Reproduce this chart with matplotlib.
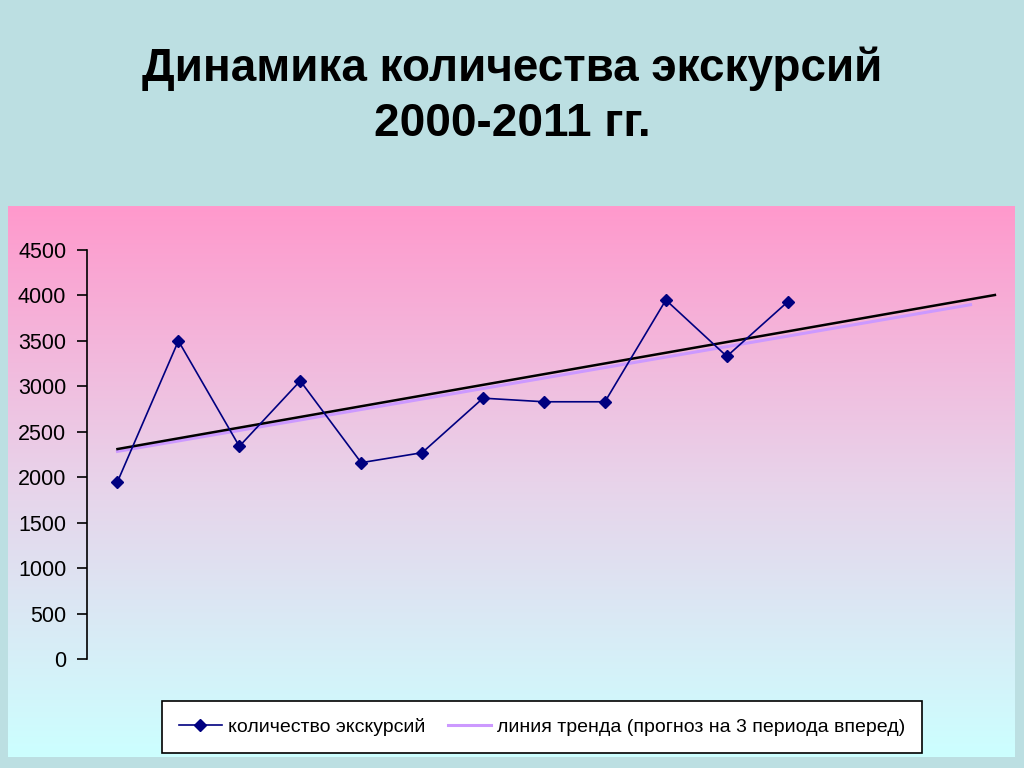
import matplotlib
matplotlib.use("Agg")
import matplotlib.pyplot as plt
import numpy as np
from matplotlib.colors import LinearSegmentedColormap

# Data
years = list(range(2000, 2012))
excursions = [1950, 3500, 2340, 3060, 2160, 2270, 2870, 2830, 2830, 3950, 3330, 3930]
forecast_periods = 3
# hand drawn black line on the slide (start / end in category units)
black_x = [0, 14.4]
black_y = [2310, 4005]
y_ticks = [0, 500, 1000, 1500, 2000, 2500, 3000, 3500, 4000, 4500]

plt.rcParams['font.family'] = ['Liberation Sans', 'DejaVu Sans']

fig = plt.figure(figsize=(10.24, 7.68), dpi=100)
fig.patch.set_facecolor('#bcdfe2')

# gradient panel behind the chart
bg = fig.add_axes([8/1024, 1-757/768, (1015-8)/1024, (757-206)/768])
cmap = LinearSegmentedColormap.from_list('pc', ['#ff99cc', '#e8d3ea', '#ccffff'])
grad = np.linspace(0, 1, 256).reshape(-1, 1)
bg.imshow(grad, aspect='auto', cmap=cmap, extent=[0, 1, 0, 1], origin='upper')
bg.set_axis_off()

# title
fig.text(0.5, 1-69/768, 'Динамика количества экскурсий', ha='center', va='center',
         fontsize=33, fontweight='bold')
fig.text(0.5, 1-124/768, '2000-2011 гг.', ha='center', va='center',
         fontsize=33, fontweight='bold')

ax = fig.add_axes([87/1024, 1-659/768, (1001-87)/1024, (659-250)/768])
ax.patch.set_alpha(0)

x = np.arange(len(excursions))
# linear trend with forecast
k, b = np.polyfit(x, excursions, 1)
xt = np.arange(len(excursions) + forecast_periods)
ax.plot(xt, k*xt + b, color='#cc99ff', lw=2.2, label='линия тренда (прогноз на 3 периода вперед)', zorder=2)
ax.plot(black_x, black_y, color='black', lw=1.8, zorder=3, clip_on=False)
ax.plot(x, excursions, color='#000080', lw=1.2, marker='D', ms=6.5,
        markerfacecolor='#000080', label='количество экскурсий', zorder=4)

ax.set_xlim(-0.5, 14.5)
ax.set_ylim(0, 4500)
ax.set_yticks(y_ticks)
ax.set_xticks([])
for s in ['top', 'right', 'bottom']:
    ax.spines[s].set_visible(False)
ax.spines['left'].set_linewidth(1.2)
ax.tick_params(axis='y', direction='out', length=7, width=1.2, pad=8, labelsize=15.5)

h, l = ax.get_legend_handles_labels()
leg = fig.legend([h[1], h[0]], [l[1], l[0]], ncol=2, loc='center',
                 bbox_to_anchor=(542/1024, 1-727/768), fontsize=14, frameon=True,
                 fancybox=False, edgecolor='black', framealpha=1, handlelength=2.2,
                 columnspacing=1.2, handletextpad=0.3, borderpad=0.85)
leg.get_frame().set_linewidth(1.2)

fig.savefig('out.png', dpi=100, facecolor=fig.get_facecolor())
